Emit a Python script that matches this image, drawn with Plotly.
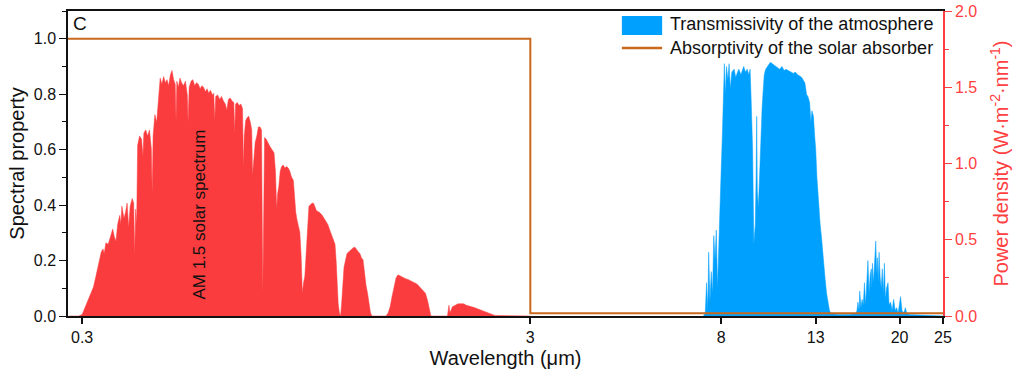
import plotly.graph_objects as go

# AM 1.5 solar spectrum: wavelength (um) and power density (W m^-2 nm^-1)
solar_wl = [0.280, 0.295, 0.300, 0.305, 0.310, 0.315, 0.318, 0.322, 0.326, 0.329,
            0.331, 0.334, 0.336, 0.339, 0.343, 0.347, 0.351, 0.354, 0.357, 0.360,
            0.364, 0.366, 0.368, 0.372, 0.375, 0.378, 0.381, 0.384, 0.388, 0.391,
            0.393, 0.395, 0.397, 0.399, 0.403, 0.407, 0.410, 0.412, 0.416, 0.420,
            0.424, 0.428, 0.430, 0.432, 0.436, 0.440, 0.444, 0.448, 0.452, 0.456,
            0.460, 0.464, 0.468, 0.472, 0.476, 0.480, 0.484, 0.486, 0.488, 0.492,
            0.496, 0.500, 0.505, 0.510, 0.515, 0.517, 0.520, 0.525, 0.530, 0.535,
            0.540, 0.545, 0.550, 0.555, 0.560, 0.565, 0.570, 0.575, 0.580, 0.586,
            0.590, 0.593, 0.596, 0.602, 0.608, 0.614, 0.620, 0.626, 0.631, 0.636,
            0.642, 0.648, 0.654, 0.657, 0.660, 0.666, 0.672, 0.678, 0.684, 0.687,
            0.690, 0.695, 0.700, 0.706, 0.712, 0.717, 0.720, 0.724, 0.730, 0.736,
            0.742, 0.748, 0.754, 0.759, 0.762, 0.766, 0.772, 0.780, 0.788, 0.796,
            0.804, 0.810, 0.815, 0.819, 0.824, 0.830, 0.836, 0.843, 0.850, 0.858,
            0.865, 0.872, 0.880, 0.888, 0.894, 0.899, 0.905, 0.912, 0.918, 0.924,
            0.930, 0.936, 0.942, 0.948, 0.955, 0.962, 0.970, 0.977, 0.985, 0.993,
            1.000, 1.015, 1.030, 1.045, 1.060, 1.075, 1.090, 1.100, 1.107, 1.112,
            1.118, 1.125, 1.132, 1.138, 1.145, 1.152, 1.160, 1.170, 1.180, 1.190,
            1.200, 1.210, 1.220, 1.230, 1.240, 1.250, 1.260, 1.270, 1.280, 1.290,
            1.300, 1.310, 1.320, 1.330, 1.430, 1.445, 1.460, 1.475, 1.490, 1.505,
            1.520, 1.540, 1.560, 1.580, 1.600, 1.625, 1.650, 1.675, 1.700, 1.725,
            1.750, 1.770, 1.785, 1.800, 1.960, 1.975, 1.985, 1.995, 2.010, 2.040,
            2.070, 2.100, 2.130, 2.160, 2.200, 2.250, 2.300, 2.350, 2.400, 2.450,
            2.480, 2.500, 2.700, 2.950, 3.000]
solar_pd = [0.0, 0.0, 0.01, 0.06, 0.12, 0.17, 0.19, 0.26, 0.33, 0.38,
            0.42, 0.44, 0.41, 0.48, 0.47, 0.52, 0.57, 0.52, 0.49, 0.60,
            0.66, 0.60, 0.72, 0.64, 0.68, 0.74, 0.58, 0.72, 0.77, 0.74,
            0.40, 0.70, 0.60, 1.12, 1.18, 1.16, 1.05, 1.20, 1.22, 1.18,
            1.22, 1.10, 0.80, 1.18, 1.32, 1.27, 1.45, 1.56, 1.52, 1.57,
            1.53, 1.55, 1.51, 1.58, 1.61, 1.55, 1.52, 1.28, 1.54, 1.50,
            1.56, 1.53, 1.51, 1.54, 1.45, 1.27, 1.50, 1.54, 1.55, 1.51,
            1.53, 1.52, 1.49, 1.51, 1.50, 1.47, 1.49, 1.46, 1.48, 1.45,
            1.46, 1.28, 1.44, 1.45, 1.42, 1.44, 1.41, 1.39, 1.35, 1.42,
            1.43, 1.41, 1.40, 1.20, 1.39, 1.40, 1.38, 1.39, 1.36, 0.97,
            1.18, 1.28, 1.30, 1.31, 1.27, 1.22, 0.92, 1.02, 1.14, 1.18,
            1.24, 1.24, 1.22, 0.15, 0.60, 1.17, 1.16, 1.13, 1.11, 1.09,
            1.07, 0.95, 0.70, 0.80, 0.85, 0.95, 0.98, 0.99, 0.97, 0.98,
            0.97, 0.95, 0.91, 0.89, 0.75, 0.68, 0.63, 0.58, 0.55, 0.40,
            0.15, 0.22, 0.26, 0.40, 0.58, 0.72, 0.73, 0.74, 0.74, 0.71,
            0.69, 0.68, 0.66, 0.63, 0.60, 0.55, 0.50, 0.47, 0.35, 0.22,
            0.08, 0.02, 0.0, 0.08, 0.20, 0.32, 0.36, 0.41, 0.42, 0.43,
            0.44, 0.45, 0.45, 0.43, 0.42, 0.41, 0.38, 0.37, 0.26, 0.20,
            0.15, 0.08, 0.02, 0.0, 0.0, 0.02, 0.06, 0.13, 0.19, 0.25,
            0.27, 0.26, 0.25, 0.245, 0.24, 0.23, 0.22, 0.21, 0.19, 0.17,
            0.15, 0.10, 0.04, 0.0, 0.0, 0.07, 0.02, 0.04, 0.06, 0.07,
            0.08, 0.08, 0.08, 0.07, 0.065, 0.055, 0.045, 0.035, 0.025, 0.015,
            0.006, 0.004, 0.002, 0.002, 0.0]

# Atmospheric transmissivity (left axis)
atm_wl = [7.30, 7.37, 7.42, 7.47, 7.50, 7.55, 7.60, 7.65, 7.70, 7.75,
          7.80, 7.85, 7.90, 7.95, 8.00, 8.05, 8.10, 8.13, 8.17, 8.22,
          8.28, 8.33, 8.38, 8.45, 8.55, 8.62, 8.70, 8.76, 8.85, 8.92,
          8.98, 9.06, 9.14, 9.22, 9.28, 9.33, 9.40, 9.46, 9.50, 9.53,
          9.57, 9.60, 9.63, 9.68, 9.73, 9.78, 9.83, 9.87, 9.93, 9.98,
          10.05, 10.14, 10.22, 10.30, 10.40, 10.50, 10.57, 10.70, 10.80, 10.93,
          11.05, 11.15, 11.30, 11.45, 11.60, 11.70, 11.85, 12.00, 12.10, 12.20,
          12.30, 12.40, 12.50, 12.60, 12.68, 12.75, 12.85, 12.93, 13.00, 13.08,
          13.15, 13.22, 13.30, 13.38, 13.45, 13.55, 13.65, 13.75, 13.85, 13.95,
          14.05, 14.50, 15.50, 16.00, 16.07, 16.15, 16.25, 16.30, 16.40, 16.50,
          16.60, 16.70, 16.80, 16.90, 17.00, 17.10, 17.20, 17.30, 17.35, 17.40,
          17.50, 17.60, 17.70, 17.78, 17.85, 17.92, 18.00, 18.10, 18.20, 18.30,
          18.40, 18.50, 18.60, 18.70, 18.85, 18.95, 19.10, 19.25, 19.40, 19.55,
          19.70, 19.85, 20.00, 20.10, 20.25, 20.45, 20.60, 20.75, 21.00, 25.00]
atm_tr = [0.0, 0.01, 0.12, 0.02, 0.23, 0.05, 0.16, 0.08, 0.29, 0.20,
          0.31, 0.10, 0.25, 0.45, 0.53, 0.66, 0.88, 0.91, 0.80, 0.90,
          0.85, 0.91, 0.82, 0.88, 0.89, 0.86, 0.88, 0.89, 0.87, 0.89,
          0.90, 0.88, 0.89, 0.87, 0.89, 0.78, 0.60, 0.26, 0.30, 0.33,
          0.50, 0.72, 0.45, 0.39, 0.48, 0.60, 0.70, 0.75, 0.82, 0.87,
          0.89, 0.90, 0.91, 0.915, 0.91, 0.905, 0.90, 0.895, 0.89, 0.90,
          0.885, 0.89, 0.885, 0.88, 0.875, 0.88, 0.87, 0.865, 0.86, 0.85,
          0.84, 0.80, 0.79, 0.77, 0.70, 0.74, 0.72, 0.65, 0.60, 0.50,
          0.43, 0.38, 0.33, 0.29, 0.24, 0.18, 0.13, 0.08, 0.05, 0.02,
          0.01, 0.005, 0.005, 0.01, 0.02, 0.05, 0.02, 0.09, 0.03, 0.06,
          0.04, 0.12, 0.04, 0.14, 0.20, 0.08, 0.15, 0.17, 0.10, 0.19,
          0.12, 0.20, 0.27, 0.15, 0.21, 0.12, 0.23, 0.14, 0.10, 0.17,
          0.08, 0.19, 0.06, 0.10, 0.12, 0.04, 0.05, 0.02, 0.06, 0.02,
          0.03, 0.01, 0.05, 0.07, 0.02, 0.01, 0.03, 0.01, 0.005, 0.0]

# Absorptivity of the solar absorber (step)
abs_wl = [0.27, 3.0, 3.0, 25.0]
abs_val = [1.0, 1.0, 0.01, 0.01]

x_ticks = [0.3, 3, 8, 13, 20, 25]
legend_labels = ["Transmissivity of the atmosphere", "Absorptivity of the solar absorber"]

FONT = "Arial, Liberation Sans, sans-serif"
RED = "#FA3C3E"
AXRED = "#FF4040"
BLUE = "#00A0FF"
BROWN = "#C8691E"
TXT = "#111111"

fig = go.Figure()
fig.add_trace(go.Scatter(x=solar_wl, y=solar_pd, yaxis="y2", mode="lines",
                         line=dict(width=0.5, color=RED), fill="tozeroy",
                         fillcolor=RED, showlegend=False, name="AM 1.5"))
fig.add_trace(go.Scatter(x=atm_wl, y=atm_tr, mode="lines",
                         line=dict(width=0.5, color=BLUE), fill="tozeroy",
                         fillcolor=BLUE, showlegend=False, name=legend_labels[0]))
fig.add_trace(go.Scatter(x=abs_wl, y=abs_val, mode="lines",
                         line=dict(width=2, color=BROWN), showlegend=False,
                         name=legend_labels[1]))

fig.update_layout(
    width=1019, height=383,
    margin=dict(l=68, r=76, t=11, b=67),
    plot_bgcolor="white", paper_bgcolor="white",
    font=dict(family=FONT, size=16, color=TXT),
    showlegend=False,
    xaxis=dict(type="log", range=[-0.5544, 1.39794], automargin=False,
               tickvals=x_ticks, ticktext=[str(v) for v in x_ticks],
               ticks="outside", ticklen=6, tickwidth=1.5, tickcolor=TXT,
               showline=True, linecolor=TXT, linewidth=1.5, mirror=True,
               showgrid=False, zeroline=False,
               title=dict(text="Wavelength (\u03bcm)", font=dict(size=20), standoff=6),
               tickfont=dict(size=16)),
    yaxis=dict(range=[0, 1.1], dtick=0.2, tickformat=".1f", automargin=False,
               ticks="outside", ticklen=7, tickwidth=1.2, tickcolor=TXT,
               minor=dict(dtick=0.1, ticks="outside", ticklen=4, tickcolor=TXT),
               showline=True, linecolor=TXT, linewidth=1.5,
               showgrid=False, zeroline=False,
               title=dict(text="Spectral property", font=dict(size=20), standoff=4),
               tickfont=dict(size=16)),
    yaxis2=dict(range=[0, 2.0], dtick=0.5, tickformat=".1f", overlaying="y", side="right",
                automargin=False,
                ticks="outside", ticklen=7, tickwidth=1.2, tickcolor=AXRED,
                minor=dict(dtick=0.25, ticks="outside", ticklen=4, tickcolor=AXRED),
                showline=True, linecolor=AXRED, linewidth=1.5,
                showgrid=False, zeroline=False,
                title=dict(text="Power density (W\u00b7m<sup>-2</sup>\u00b7nm<sup>-1</sup>)",
                           font=dict(size=20, color=AXRED), standoff=18),
                tickfont=dict(size=16, color=AXRED)),
)

# legend drawn in the upper right corner of the plot
fig.add_shape(type="rect", xref="paper", yref="paper", x0=0.633, x1=0.679,
              y0=0.921, y1=0.984, fillcolor=BLUE, line=dict(width=0))
fig.add_shape(type="line", xref="paper", yref="paper", x0=0.633, x1=0.679,
              y0=0.879, y1=0.879, line=dict(color=BROWN, width=2.5))
fig.add_annotation(text=legend_labels[0], xref="paper", yref="paper", x=0.686, y=0.957,
                   xanchor="left", yanchor="middle", showarrow=False,
                   font=dict(size=18, color=TXT))
fig.add_annotation(text=legend_labels[1], xref="paper", yref="paper", x=0.686, y=0.879,
                   xanchor="left", yanchor="middle", showarrow=False,
                   font=dict(size=18, color=TXT))

fig.add_annotation(text="C", xref="paper", yref="paper", x=0.003, y=1.0,
                   xanchor="left", yanchor="top", showarrow=False,
                   font=dict(size=19, color=TXT))
fig.add_annotation(text="AM 1.5 solar spectrum", xref="x", yref="y",
                   x=-0.261, y=0.364, textangle=-90, showarrow=False,
                   font=dict(size=17, color=TXT))

fig.write_html("out.html")
